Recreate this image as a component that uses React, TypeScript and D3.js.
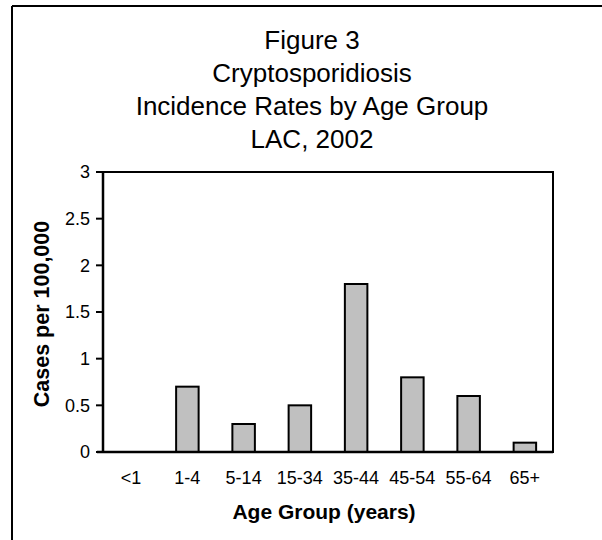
import React from "react";
import * as d3 from "d3";

const titleLines = ["Figure 3", "Cryptosporidiosis", "Incidence Rates by Age Group", "LAC, 2002"];
const categories = ["<1", "1-4", "5-14", "15-34", "35-44", "45-54", "55-64", "65+"];
const rates = [0, 0.7, 0.3, 0.5, 1.8, 0.8, 0.6, 0.1];
const yTicks = [0, 0.5, 1, 1.5, 2, 2.5, 3];
const xTitle = "Age Group (years)";
const yTitle = "Cases per 100,000";

const W = 602;
const H = 540;
const plot = { left: 103, right: 553, top: 172, bottom: 452 };
const font = "'Liberation Sans', Arial, sans-serif";

export default function App() {
  const x = d3
    .scaleBand<string>()
    .domain(categories)
    .range([plot.left, plot.right])
    .paddingInner(0.6)
    .paddingOuter(0.3);
  const y = d3.scaleLinear().domain([0, 3]).range([plot.bottom, plot.top]);
  const fmt = (v: number) => String(v);

  return (
    <svg
      width={W}
      height={H}
      style={{ position: "absolute", left: 0, top: 0, background: "#fff" }}
      fontFamily={font}
    >
      <rect x={0} y={0} width={W} height={H} fill="#fff" />
      {/* outer frame (top and left edges visible) */}
      <line x1={12} y1={6} x2={W + 10} y2={6} stroke="#000" strokeWidth={2} />
      <line x1={12} y1={6} x2={12} y2={H + 10} stroke="#000" strokeWidth={2} />

      {titleLines.map((t, i) => (
        <text key={t} x={312} y={48.5 + i * 33.3} textAnchor="middle" fontSize={26} fill="#000">
          {t}
        </text>
      ))}

      {/* plot frame */}
      <rect
        x={plot.left}
        y={plot.top}
        width={plot.right - plot.left}
        height={plot.bottom - plot.top}
        fill="#fff"
        stroke="#000"
        strokeWidth={2}
      />

      {categories.map((c, i) =>
        rates[i] > 0 ? (
          <rect
            key={c}
            x={x(c)!}
            y={y(rates[i])}
            width={x.bandwidth()}
            height={y(0) - y(rates[i])}
            fill="#c0c0c0"
            stroke="#000"
            strokeWidth={2}
          />
        ) : null
      )}

      {/* redraw axes on top */}
      <line x1={plot.left} y1={plot.top} x2={plot.left} y2={plot.bottom} stroke="#000" strokeWidth={2.5} />
      <line x1={plot.left - 6} y1={plot.bottom} x2={plot.right} y2={plot.bottom} stroke="#000" strokeWidth={2.5} />

      {yTicks.map((v) => (
        <g key={v}>
          <line x1={plot.left - 7} x2={plot.left} y1={y(v)} y2={y(v)} stroke="#000" strokeWidth={2} />
          <text x={90} y={y(v)} dy="0.35em" textAnchor="end" fontSize={18} fill="#000">
            {fmt(v)}
          </text>
        </g>
      ))}

      {categories.map((c) => (
        <text
          key={c}
          x={x(c)! + x.bandwidth() / 2}
          y={484}
          textAnchor="middle"
          fontSize={18}
          fill="#000"
        >
          {c}
        </text>
      ))}

      <text x={324} y={519} textAnchor="middle" fontSize={21} fontWeight="bold" fill="#000">
        {xTitle}
      </text>
      <text
        transform={`translate(49,314) rotate(-90)`}
        textAnchor="middle"
        fontSize={21.5}
        fontWeight="bold"
        fill="#000"
      >
        {yTitle}
      </text>
    </svg>
  );
}
